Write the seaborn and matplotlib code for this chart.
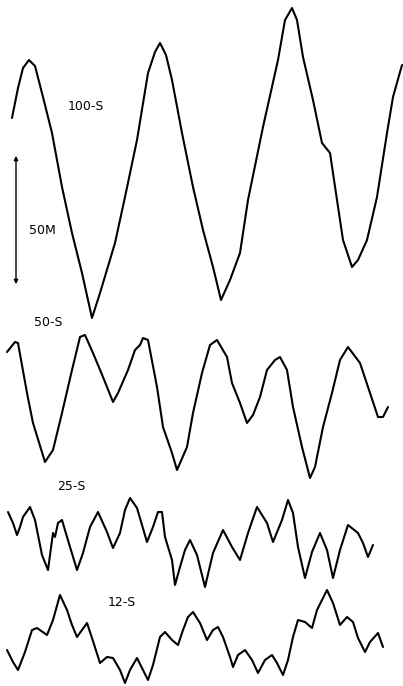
import matplotlib
matplotlib.use("Agg")
import matplotlib.pyplot as plt
import seaborn as sns

# 100-S trace
t_100 = [12, 18, 23, 29, 35, 43, 52, 62, 72, 82, 92, 100, 115, 125, 137, 148, 155, 160, 166, 172, 182, 193, 203, 213, 221,
         230, 240, 248, 263, 278, 285, 292, 297, 303, 313, 322, 330, 337, 343, 352, 358, 367, 377, 387, 393, 402]
y_100 = [118, 88, 68, 60, 66, 97, 133, 187, 233, 273, 318, 293, 243, 197, 140, 73, 52, 43, 55, 80, 133, 187, 230, 267, 300,
         280, 253, 200, 127, 60, 20, 8, 20, 57, 100, 143, 153, 200, 240, 267, 260, 240, 197, 133, 97, 65]

# 50-S trace
t_50 = [7, 15, 18, 27, 33, 45, 53, 62, 72, 80, 85, 93, 103, 113, 118, 128, 135, 140, 143, 148, 157, 163, 172, 177, 187, 193,
        202, 210, 217, 227, 232, 240, 247, 253, 260, 267, 275, 280, 287, 293, 302, 310, 315, 323, 332, 340, 348, 360, 368,
        378, 383, 388]
y_50 = [352, 342, 343, 393, 423, 462, 450, 413, 370, 337, 335, 353, 377, 402, 393, 370, 350, 345, 338, 340, 387, 427, 453,
        470, 447, 413, 373, 345, 340, 357, 383, 403, 423, 415, 397, 370, 360, 357, 370, 407, 447, 478, 467, 427, 393, 360,
        347, 363, 387, 417, 417, 407]

# 25-S trace
t_25 = [8, 13, 17, 20, 23, 30, 35, 42, 48, 53, 55, 58, 62, 67, 77, 83, 90, 98, 107, 113, 120, 125, 130, 137, 147, 153, 158,
        162, 165, 172, 175, 180, 185, 190, 197, 205, 213, 223, 232, 240, 248, 257, 267, 273, 282, 288, 293, 298, 305, 312,
        320, 327, 333, 340, 348, 358, 363, 368, 373]
y_25 = [512, 523, 535, 527, 517, 507, 520, 555, 570, 533, 537, 523, 520, 537, 570, 553, 527, 512, 532, 548, 533, 510, 498,
        508, 542, 527, 512, 512, 537, 560, 585, 567, 550, 540, 555, 587, 553, 530, 547, 560, 533, 507, 523, 542, 520, 500,
        513, 547, 578, 552, 533, 550, 578, 550, 525, 533, 543, 557, 545]

# 12-S trace
t_12 = [7, 13, 18, 25, 32, 37, 47, 53, 60, 67, 72, 77, 87, 92, 100, 107, 113, 120, 125, 130, 137, 143, 148, 153, 160, 165,
        172, 178, 183, 188, 193, 200, 207, 213, 218, 223, 230, 233, 238, 245, 252, 258, 265, 272, 277, 283, 288, 293, 298,
        305, 312, 317, 327, 333, 340, 347, 353, 358, 365, 370, 378, 383]
y_12 = [650, 662, 670, 652, 630, 628, 635, 620, 595, 610, 625, 637, 623, 638, 663, 657, 658, 670, 683, 670, 658, 670, 680,
        665, 637, 632, 640, 645, 630, 617, 612, 623, 640, 630, 627, 637, 657, 667, 655, 650, 660, 673, 660, 655, 663, 675,
        660, 637, 620, 622, 628, 610, 590, 603, 625, 617, 622, 638, 652, 642, 633, 647]

labels = ["100-S", "50-S", "25-S", "12-S"]
label_pos = [(86, 107), (48, 322), (71, 487), (122, 603)]
scale_text = "50M"

sns.set_theme(style="white")
plt.rcParams["font.family"] = ["DejaVu Sans"]

fig = plt.figure(figsize=(4.03, 6.86), dpi=100)
ax = fig.add_axes([0, 0, 1, 1])
ax.set_xlim(0, 403)
ax.set_ylim(686, 0)
ax.axis("off")

for t, y in [(t_100, y_100), (t_50, y_50), (t_25, y_25), (t_12, y_12)]:
    sns.lineplot(x=t, y=y, sort=False, estimator=None, color="black", linewidth=1.5, ax=ax,
                 solid_joinstyle="round", solid_capstyle="round")

for lab, (lx, ly) in zip(labels, label_pos):
    ax.text(lx, ly, lab, fontsize=9, color="black", ha="center", va="center")

ax.annotate("", xy=(16, 153), xytext=(16, 287),
            arrowprops=dict(arrowstyle="<|-|>", color="black", lw=1.0, mutation_scale=6))
ax.text(42, 230, scale_text, fontsize=9, color="black", ha="center", va="center")

fig.savefig("out.png", dpi=100, facecolor="white")
